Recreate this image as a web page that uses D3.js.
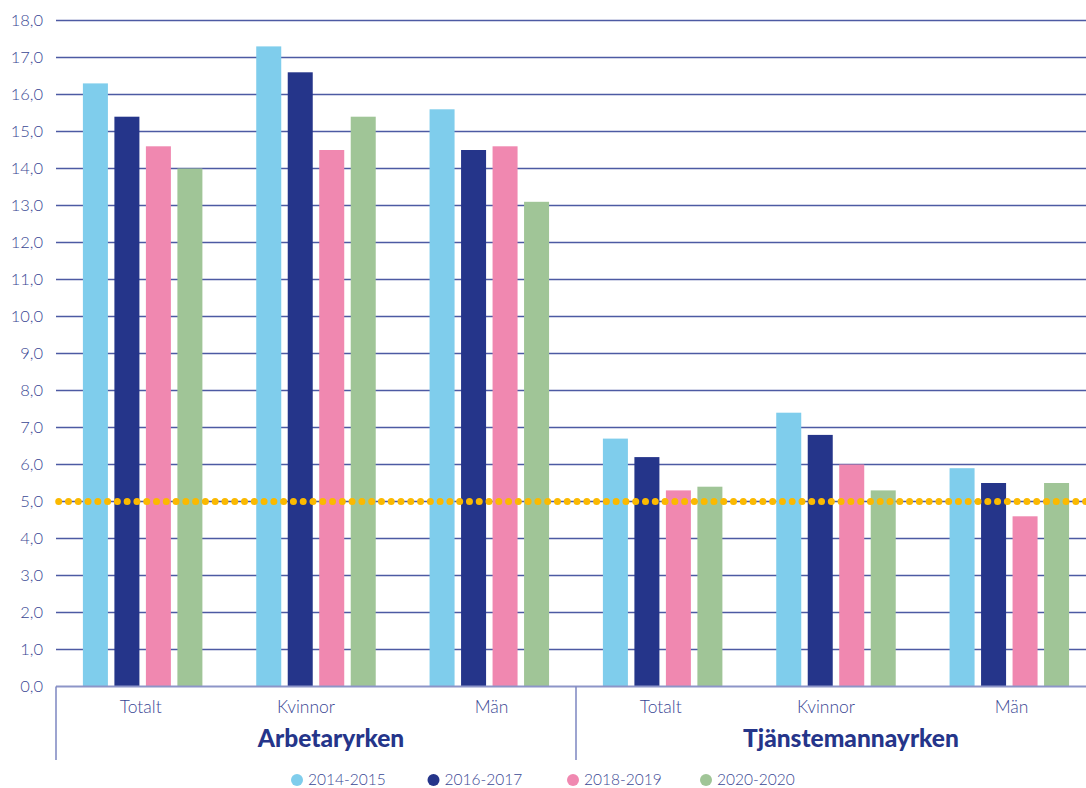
<!DOCTYPE html>
<html>
<head>
<meta charset="utf-8">
<script src="https://cdn.jsdelivr.net/npm/d3@7"></script>
<style>
  html, body { margin: 0; padding: 0; background: #ffffff; }
  svg { display: block; font-family: Lato, "Noto Sans", sans-serif; }
</style>
</head>
<body>
<svg id="chart" width="1086" height="788"></svg>
<script>
// ---- data ----
const groups = ["Arbetaryrken", "Tjänstemannayrken"];
const categories = ["Totalt", "Kvinnor", "Män", "Totalt", "Kvinnor", "Män"];
const categoryGroup = [0, 0, 0, 1, 1, 1];
const series = ["2014-2015", "2016-2017", "2018-2019", "2020-2020"];
const values2014 = [16.3, 17.3, 15.6, 6.7, 7.4, 5.9];
const values2016 = [15.4, 16.6, 14.5, 6.2, 6.8, 5.5];
const values2018 = [14.6, 14.5, 14.6, 5.3, 6.0, 4.6];
const values2020 = [14.0, 15.4, 13.1, 5.4, 5.3, 5.5];
const referenceValue = 5.0;
const yTicks = [0, 1, 2, 3, 4, 5, 6, 7, 8, 9, 10, 11, 12, 13, 14, 15, 16, 17, 18];

const seriesValues = [values2014, values2016, values2018, values2020];
const colors = ["#7fcdec", "#25358a", "#f088b0", "#a0c597"];

// ---- layout ----
const svg = d3.select("#chart");
const left = 56, right = 1096, plotRight = 1086;
const y = d3.scaleLinear().domain([0, 18]).range([686.5, 20.5]);
const catIdx = categories.map((c, i) => i);
const x0 = d3.scaleBand().domain(catIdx).range([left, right]).paddingInner(0).paddingOuter(0);
const x1 = d3.scaleBand().domain(series).range([26.9, 146.4]).paddingInner(0.206).paddingOuter(0);
const fmt = v => d3.format(".1f")(v).replace(".", ",");

// gridlines
svg.append("g").selectAll("line")
  .data(yTicks.filter(t => t > 0))
  .join("line")
  .attr("x1", left).attr("x2", plotRight)
  .attr("y1", d => y(d)).attr("y2", d => y(d))
  .attr("stroke", "#4d5aa3").attr("stroke-width", 1.3);

// y tick labels
svg.append("g").selectAll("text")
  .data(yTicks)
  .join("text")
  .attr("x", 43).attr("y", d => y(d)).attr("dy", "0.35em")
  .attr("text-anchor", "end")
  .attr("font-size", 16.5)
  .attr("font-weight", 300)
  .attr("fill", "#3a4794")
  .text(fmt);

// bars
const barG = svg.append("g");
catIdx.forEach(ci => {
  const g = barG.append("g").attr("transform", `translate(${x0(ci)},0)`);
  g.selectAll("rect")
    .data(series.map((s, si) => ({ s, si, v: seriesValues[si][ci] })))
    .join("rect")
    .attr("x", d => x1(d.s))
    .attr("width", x1.bandwidth())
    .attr("y", d => y(d.v))
    .attr("height", d => y(0) - y(d.v))
    .attr("fill", d => colors[d.si]);
});

// bottom axis line
svg.append("line")
  .attr("x1", left).attr("x2", plotRight)
  .attr("y1", y(0)).attr("y2", y(0))
  .attr("stroke", "#8d95c8").attr("stroke-width", 2);

// reference dotted line
svg.append("line")
  .attr("x1", left + 2.7).attr("x2", plotRight + 5)
  .attr("y1", y(referenceValue)).attr("y2", y(referenceValue))
  .attr("stroke", "#fbb900").attr("stroke-width", 7)
  .attr("stroke-linecap", "round")
  .attr("stroke-dasharray", "0 9.78");

// group separators
const sepX = [left, x0(3)];
svg.append("g").selectAll("line")
  .data(sepX)
  .join("line")
  .attr("x1", d => d).attr("x2", d => d)
  .attr("y1", y(0)).attr("y2", 760)
  .attr("stroke", "#7c86c0").attr("stroke-width", 1.5);

// category labels
svg.append("g").selectAll("text")
  .data(catIdx)
  .join("text")
  .attr("x", d => x0(d) + x0.bandwidth() / 2 + 19)
  .attr("y", 713)
  .attr("text-anchor", "end")
  .attr("font-size", 17.5)
  .attr("font-weight", 300)
  .attr("fill", "#3a4794")
  .text(d => categories[d]);

// group labels
svg.append("g").selectAll("text")
  .data(groups)
  .join("text")
  .attr("x", (d, gi) => {
    const idx = catIdx.filter(i => categoryGroup[i] === gi);
    const a = x0(idx[0]), b = x0(idx[idx.length - 1]) + x0.bandwidth();
    return (a + b) / 2 + 15;
  })
  .attr("y", 747)
  .attr("text-anchor", "middle")
  .attr("font-size", 24.5)
  .attr("font-weight", 900)
  .attr("fill", "#25358a")
  .text(d => d);

// legend
const legend = svg.append("g");
const legendX = [297, 433.5, 573, 706];
series.forEach((s, i) => {
  const g = legend.append("g").attr("transform", `translate(${legendX[i]},780)`);
  g.append("circle").attr("r", 6).attr("fill", colors[i]);
  g.append("text").attr("x", 11).attr("dy", "0.35em")
    .attr("font-size", 15.5).attr("font-weight", 300)
    .attr("fill", "#3a4794").text(s);
});
</script>
</body>
</html>
